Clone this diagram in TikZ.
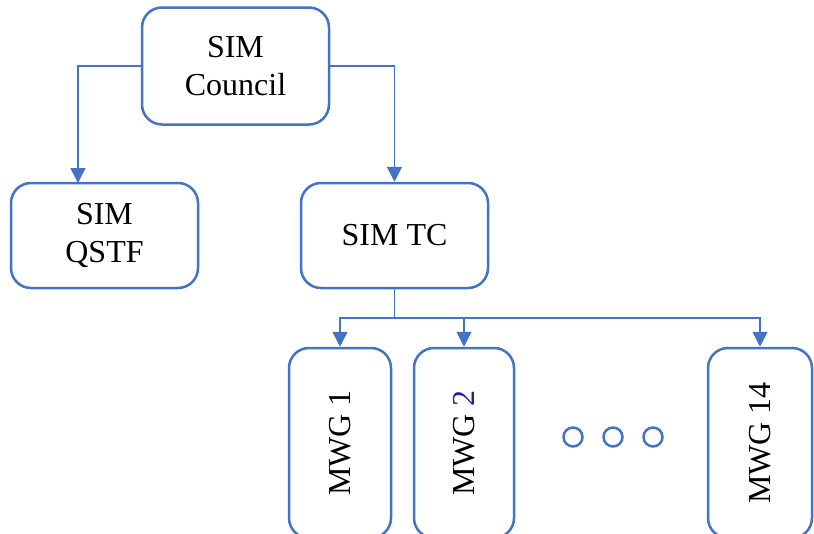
\documentclass[tikz,border=0pt]{standalone}
\usepackage{fontspec}
\setmainfont{Liberation Serif}
\usetikzlibrary{arrows.meta}
\definecolor{OfficeBlue}{RGB}{68,114,196}
\definecolor{DeepIndigo}{RGB}{46,28,140}

\begin{document}
\begin{tikzpicture}[x=1pt, y=-1pt,
	box/.style={draw=OfficeBlue, line width=2.5pt, rounded corners=20pt, fill=white,
		align=center, inner sep=0pt, font=\fontsize{32}{38}\selectfont},
	link/.style={OfficeBlue, line width=1.5pt, -{Triangle[width=15pt,length=15pt]}}]
	\clip (0,0) rectangle (814,533);
	
	% oberste Ebene
	\node[box, minimum width=187pt, minimum height=117pt] (council) at (235.5,66) {SIM\\Council};
	
	% zweite Ebene
	\node[box, minimum width=187pt, minimum height=105pt] (qstf) at (104.5,235.5) {SIM\\QSTF};
	\node[box, minimum width=187pt, minimum height=105pt] (tc) at (394.5,235.5) {SIM TC};
	
	% Arbeitsgruppen (unten abgeschnitten)
	\node[box, minimum width=102pt, minimum height=190pt] (mwg1) at (340,443) {\rotatebox{90}{MWG 1}};
	\node[box, minimum width=100pt, minimum height=190pt] (mwg2) at (464,443) {\rotatebox{90}{MWG {\color{DeepIndigo}2}}};
	\node[box, minimum width=104pt, minimum height=190pt] (mwg14) at (760,443) {\rotatebox{90}{MWG 14}};
	
	% Pfeile von oben
	\coordinate (qstftop) at (78,183);
	\draw[link] (council.west) -| (qstftop);
	\draw[link] (council.east) -| (tc.north);
	
	% Verteilung nach unten
	\coordinate (split) at (394.5,318);
	\draw[OfficeBlue, line width=1.5pt] (tc.south) -- (split);
	\draw[link] (split) -| (mwg1.north);
	\draw[link] (split) -| (mwg2.north);
	\draw[link] (split) -| (mwg14.north);
	
	% Auslassung
	\foreach \cx in {573,613,653}
		\draw[OfficeBlue, line width=2.5pt] (\cx,437) circle (9.5pt);
\end{tikzpicture}
\end{document}
